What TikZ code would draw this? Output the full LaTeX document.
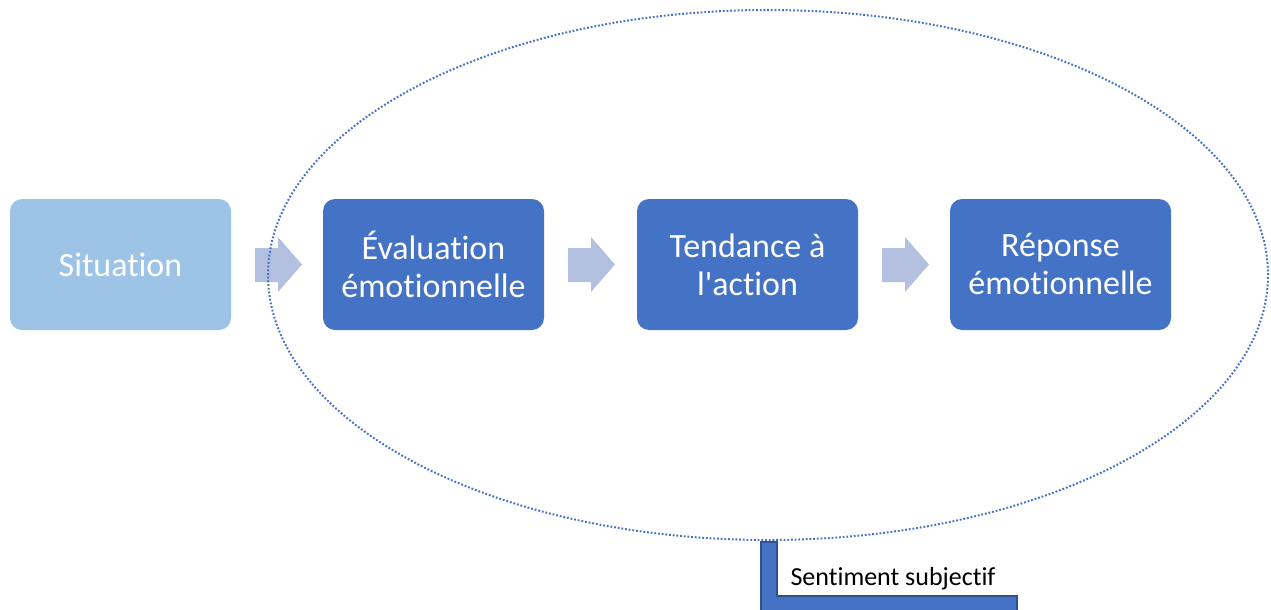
\documentclass[tikz,border=0pt]{standalone}
\usepackage{fontspec}
\setmainfont{Carlito}[Ligatures={NoCommon,NoRequired,NoContextual}]
\usetikzlibrary{shapes.geometric}
\definecolor{boxblue}{HTML}{4472C4}
\definecolor{lightbox}{HTML}{9DC3E6}
\definecolor{arrowfill}{HTML}{B4C0E0}
\definecolor{darkedge}{HTML}{2F528F}
\begin{document}
\begin{tikzpicture}[x=1pt,y=-1pt,
  stepbox/.style={rounded corners=12pt, minimum width=221pt, minimum height=131pt, inner sep=0pt,
    text=white, align=center, font=\fontsize{34}{38}\selectfont},
  blockarrow/.style={fill=arrowfill, draw=none},
  ring/.style={draw=boxblue, line width=2pt, dash pattern=on 1.8pt off 1.9pt}]
\useasboundingbox (0,0) rectangle (1271,610);
\node[stepbox, fill=lightbox] (sit) at (120.5,264.5) {Situation};
\node[stepbox, fill=boxblue] (eval) at (433.5,264.5) {Évaluation\\émotionnelle};
\node[stepbox, fill=boxblue] (tend) at (747.5,264.5) {Tendance à\\l\textquotesingle action};
\node[stepbox, fill=boxblue] (rep) at (1060.5,264.5) {Réponse\\émotionnelle};
% block arrows
\foreach \x in {255,568,882}{
  \fill[blockarrow] (\x,248) -- (\x+23,248) -- (\x+23,237) -- (\x+47,264.5) -- (\x+23,292) -- (\x+23,282) -- (\x,282) -- cycle;
}
% dotted ellipse
\node[ring, ellipse, minimum width=1000pt, minimum height=530pt, inner sep=0pt] (ring) at (768,275) {};
% callout
\filldraw[fill=boxblue, draw=darkedge, line width=1.5pt]
  (761,542) -- (777,542) -- (777,596) -- (1017,596) -- (1017,612) -- (761,612) -- cycle;
\node[font=\fontsize{26}{30}\selectfont, text=black, anchor=base] (sent) at (893,585) {Sentiment subjectif};
\end{tikzpicture}
\end{document}
